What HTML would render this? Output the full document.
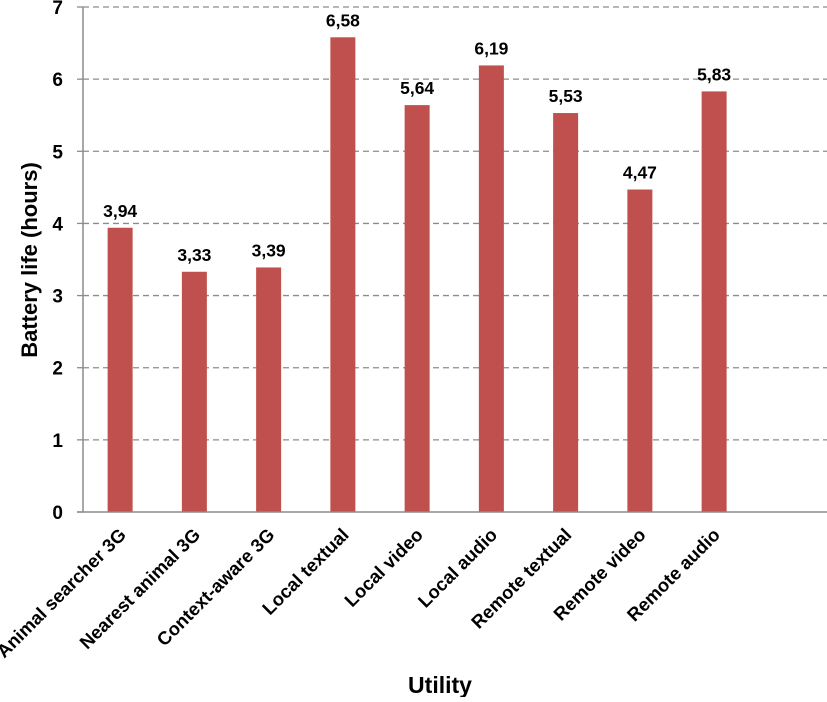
<!DOCTYPE html>
<html><head><meta charset="utf-8"><style>
body{margin:0;background:#fff;}
svg text{font-family:"Liberation Sans",sans-serif;font-weight:bold;fill:#000;}
</style></head><body>
<svg width="827" height="697" viewBox="0 0 827 697" xmlns="http://www.w3.org/2000/svg">
<g id="grid"></g><g id="bars"></g><g id="axes"></g><g id="labels"></g>
<text x="37" y="260" font-size="22" text-anchor="middle" transform="rotate(-90 37 260)">Battery life (hours)</text>
<text x="440" y="693" font-size="23" text-anchor="middle">Utility</text>
</svg>
<script>
const categories=["Animal searcher 3G","Nearest animal 3G","Context-aware 3G","Local textual","Local video","Local audio","Remote textual","Remote video","Remote audio"];
const values=[3.94,3.33,3.39,6.58,5.64,6.19,5.53,4.47,5.83];
const valueLabels=["3,94","3,33","3,39","6,58","5,64","6,19","5,53","4,47","5,83"];
const yTicks=[0,1,2,3,4,5,6,7];
const NS="http://www.w3.org/2000/svg";
const x0=83,slot=74.25,y0=512,yTop=7,yMax=7;
const yS=v=>y0-(y0-yTop)*v/yMax;
const xC=i=>x0+slot*(i+0.5);
function mk(t,a,p){const e=document.createElementNS(NS,t);for(const k in a)e.setAttribute(k,a[k]);p.appendChild(e);return e;}
const g=document.getElementById('grid'),b=document.getElementById('bars'),ax=document.getElementById('axes'),lb=document.getElementById('labels');
yTicks.forEach(v=>{
  const y=yS(v);
  if(v>0){const l=mk('line',{x1:x0,x2:827,y1:y,y2:y,stroke:'#8c8c8c','stroke-width':1.3,'stroke-dasharray':'6,4'},g);
  
  }
  const tk=mk('line',{x1:77,x2:x0,y1:y,y2:y,stroke:'#8c8c8c','stroke-width':1.3},ax);
  
  
  const t=mk('text',{x:63,y:y+7,'font-size':19,'text-anchor':'end'},ax);t.textContent=v;
  
  
});
values.forEach((v,i)=>{
  const cx=xC(i),w=25;
  const r=mk('rect',{x:cx-w/2,y:yS(v),width:w,height:y0-yS(v),fill:'#c0504d'},b);
  
  
  const vt=mk('text',{x:cx,y:yS(v)-11,'font-size':17.5,'text-anchor':'middle'},lb);vt.textContent=valueLabels[i];
  
  
  const ct=mk('text',{x:cx+7,y:536,'font-size':18.5,'text-anchor':'end',transform:`rotate(-45 ${cx+7} 536)`},lb);ct.textContent=categories[i];
  
  
});
const ya=mk('line',{x1:x0,x2:x0,y1:yTop,y2:y0,stroke:'#8c8c8c','stroke-width':1.5},ax);


const xa=mk('line',{x1:77,x2:827,y1:y0,y2:y0,stroke:'#8c8c8c','stroke-width':1.5},ax);


</script>
</body></html>
